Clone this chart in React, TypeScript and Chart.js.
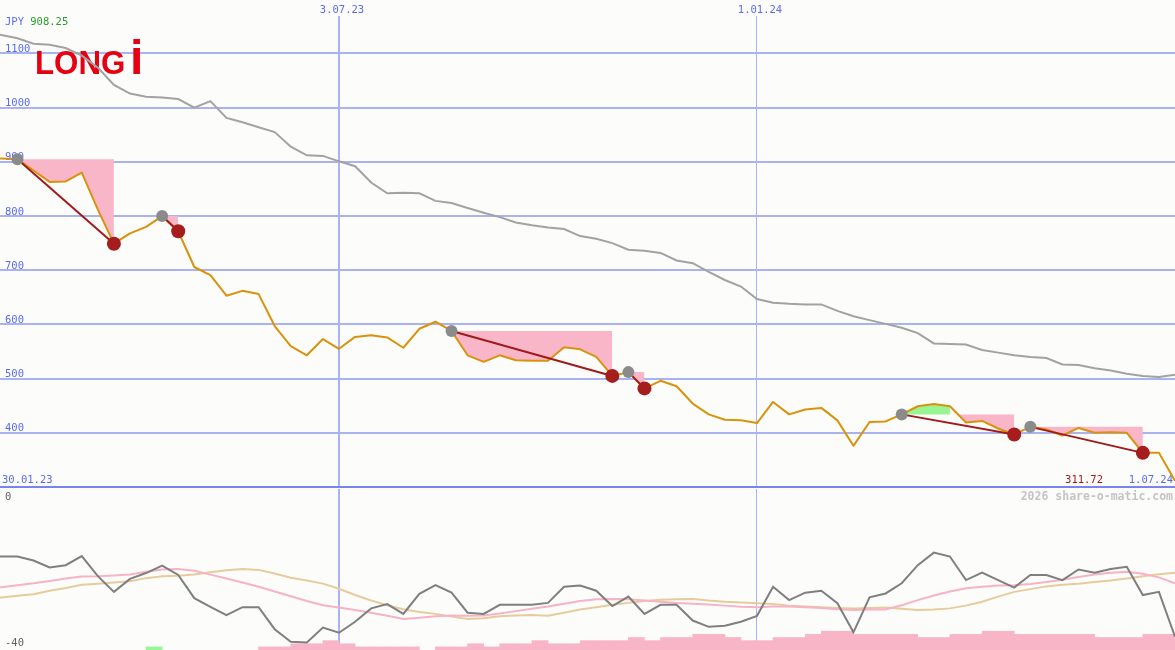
import React, { useEffect, useRef } from 'react';
import { Chart, registerables } from 'chart.js';

Chart.register(...registerables);

// ---- data (weekly, index 0 = 30.01.23, index 74 = 1.07.24) ----
const price = [
  908.25, 906, 905, 884, 863, 864, 880, 812, 749, 768,
  780, 800, 772, 706, 691, 653, 662, 656, 597, 560,
  543, 573, 555, 577, 580, 576, 557, 592, 605, 588,
  543, 531, 543, 534, 533, 533, 558, 554, 540, 505,
  512, 482, 496, 486, 454, 434, 424, 423, 418, 457,
  434, 443, 446, 423, 376, 420, 421, 434, 449, 453,
  449, 419, 422, 408, 397, 411, 406, 395, 409, 400,
  401, 400, 363, 363, 311.72,
];

const movingAvg = [
  1140, 1134, 1128, 1118, 1116, 1110, 1096, 1074, 1042, 1026,
  1020, 1019, 1016, 1000, 1012, 981, 973, 964, 955, 928,
  912, 911, 901, 892, 862, 842, 843, 842, 828, 824,
  815, 806, 798, 788, 783, 779, 776, 763, 758, 750,
  738, 736, 732, 718, 713, 697, 682, 670, 647, 640,
  638, 637, 637, 625, 615, 608, 601, 594, 584, 565,
  564, 563, 553, 548, 543, 540, 538, 526, 525, 519,
  515, 509, 505, 503, 507,
];

const oscillator = [
  -17.0, -17.2, -17.2, -18.2, -20.0, -19.4, -17.1, -22.2, -26.2, -22.9,
  -21.4, -19.5, -21.9, -27.8, -30.0, -32.1, -30.1, -30.1, -35.7, -38.9,
  -39.1, -35.3, -36.6, -33.8, -30.4, -29.3, -31.8, -26.7, -24.5, -26.4,
  -31.5, -31.8, -29.5, -29.5, -29.5, -29.0, -24.9, -24.6, -25.9, -29.8,
  -27.4, -31.8, -29.5, -29.5, -33.5, -35.1, -34.8, -33.8, -32.3, -24.9,
  -28.3, -26.4, -25.9, -29.1, -36.5, -27.6, -26.6, -24.0, -19.4, -16.2,
  -17.2, -23.2, -21.3, -23.2, -25.1, -21.9, -21.9, -23.2, -20.5, -21.3,
  -20.4, -19.8, -27.0, -26.2, -37.6,
];

const oscSignal = [
  -25.5, -25.0, -24.5, -24.0, -23.4, -22.8, -22.3, -22.2, -22.0, -21.8,
  -21.1, -20.5, -20.4, -20.8, -21.8, -22.8, -23.8, -24.9, -26.1, -27.3,
  -28.5, -29.6, -30.2, -30.8, -31.5, -32.3, -33.1, -32.8, -32.4, -32.2,
  -32.3, -32.2, -31.7, -31.1, -30.5, -29.9, -29.2, -28.5, -28.1, -28.0,
  -28.1, -28.4, -28.7, -29.0, -29.2, -29.4, -29.7, -30.0, -30.1, -29.9,
  -29.9, -30.1, -30.3, -30.6, -30.8, -30.7, -30.7, -29.6, -28.3, -27.1,
  -26.1, -25.3, -24.9, -24.6, -24.5, -24.2, -23.7, -23.1, -22.4, -21.8,
  -21.3, -21.1, -21.6, -22.5, -24.0,
];

const oscSlow = [
  -28.3, -27.6, -27.2, -26.8, -25.9, -25.2, -24.4, -24.1, -23.8, -23.5,
  -22.7, -22.2, -22.1, -21.8, -21.2, -20.7, -20.4, -20.6, -21.5, -22.6,
  -23.3, -24.1, -25.4, -27.0, -28.4, -29.6, -30.6, -31.3, -31.8, -32.5,
  -33.1, -32.9, -32.4, -32.2, -32.1, -32.3, -31.5, -30.7, -30.1, -29.5,
  -29.0, -28.5, -28.2, -28.1, -28.0, -28.4, -28.7, -28.9, -29.1, -29.3,
  -29.7, -29.9, -30.1, -30.3, -30.4, -30.3, -30.2, -30.5, -30.8, -30.7,
  -30.4, -29.7, -28.7, -27.4, -26.2, -25.5, -24.8, -24.4, -24.1, -23.7,
  -23.3, -22.8, -22.2, -21.7, -21.3,
];

// histogram per weekly interval [i, i+1]
const histogram = [
  0, 0, 0, 0, 0, 0, 0, 0, 0, 0,
  1, 0, 0, 0, 0, 0, 0, 1, 1, 2,
  2, 3, 2, 1, 1, 1, 1, 0, 1, 1,
  2, 1, 2, 2, 3, 2, 2, 3, 3, 3,
  4, 3, 4, 4, 5, 5, 4, 3, 3, 4,
  4, 5, 6, 6, 5, 5, 5, 5, 4, 4,
  5, 5, 6, 6, 5, 5, 5, 5, 5, 4,
  4, 4, 5, 5,
];
const histGreen = [10];

// signals: start (grey dot) -> end (red dot)
const sigStart = [2, 11, 29, 40, 57, 65];
const sigEnd = [8, 12, 39, 41, 64, 72];
const sigGreenEnd: (number | null)[] = [null, null, null, null, 60, null];

const xTickIdx = [22, 48];
const xTickLabels = ['3.07.23', '1.01.24'];
const yTicks = [300, 400, 500, 600, 700, 800, 900, 1000, 1100];
const startLabel = '30.01.23';
const endLabel = '1.07.24';
const currency = 'JPY';
const firstPrice = '908.25';
const lastPrice = '311.72';

// ---- styles ----
const BG = '#fcfdfb';
const BLUE = '#5a6af0';
const GRID = '#a9b3f1';
const AXIS = '#7985ec';
const ORANGE = '#d9920b';
const MA_GRAY = '#a2a2a2';
const PINK_FILL = '#fab6c9';
const GREEN_FILL = '#98f592';
const DARK_RED = '#a11a1a';
const START_PT = '#8b8b8b';
const END_PT = '#a61d1d';
const OSC = '#7f7f7f';
const OSC_PINK = '#f8b2c6';
const OSC_TAN = '#e6cc9c';
const BAR_PINK = '#f9b5c8';
const BAR_GREEN = '#98f59a';
const MONO = '"DejaVu Sans Mono", monospace';

const X_MIN = 0.914;
const X_MAX = 74;

const xScaleCfg = () => ({
  type: 'linear' as const,
  min: X_MIN,
  max: X_MAX,
  offset: false,
  display: true,
  ticks: { display: false },
  border: { display: false },
  grid: {
    offset: false,
    drawTicks: false,
    color: GRID,
    lineWidth: (c: any) => (c.index === 0 ? 2 : 1),
  },
  afterBuildTicks: (s: any) => {
    s.ticks = xTickIdx.map((v) => ({ value: v }));
  },
  afterFit: (s: any) => {
    s.height = 0;
  },
});

const mainTextPlugin = {
  id: 'mainText',
  beforeDatasetsDraw(chart: any) {
    const ctx = chart.ctx;
    const ys = chart.scales.y;
    const xs = chart.scales.x;
    ctx.save();
    ctx.font = `10.5px ${MONO}`;
    ctx.textBaseline = 'alphabetic';
    ctx.fillStyle = BLUE;
    ctx.textAlign = 'left';
    yTicks.forEach((v) => {
      if (v === 300) return;
      ctx.fillText(String(v), 5, ys.getPixelForValue(v) - 1.5);
    });
    ctx.textAlign = 'center';
    xTickIdx.forEach((v, k) => {
      ctx.fillText(xTickLabels[k], xs.getPixelForValue(v) + 3, 12.5);
    });
    // currency + first price
    ctx.textAlign = 'left';
    ctx.fillText(currency + ' ', 5, 24.5);
    const w = ctx.measureText(currency + ' ').width;
    ctx.fillStyle = '#2a9a2a';
    ctx.fillText(firstPrice, 5 + w, 24.5);
    // bottom labels
    const by = chart.chartArea.bottom - 4;
    ctx.fillStyle = BLUE;
    ctx.textAlign = 'left';
    ctx.fillText(startLabel, 2, by);
    ctx.textAlign = 'right';
    ctx.fillText(endLabel, 1173, by);
    ctx.fillStyle = DARK_RED;
    ctx.fillText(lastPrice, 1103, by);
    // logo
    ctx.fillStyle = '#e60012';
    ctx.textAlign = 'left';
    ctx.save();
    ctx.translate(35, 74);
    ctx.scale(0.92, 1);
    ctx.font = 'bold 34px "Liberation Sans", Arial, sans-serif';
    ctx.fillText('LONG', 0, 0);
    ctx.restore();
    ctx.font = 'bold 48px "Liberation Sans", Arial, sans-serif';
    ctx.fillText('i', 130, 74);
    ctx.restore();
  },
};

const lowerTextPlugin = {
  id: 'lowerText',
  afterDatasetsDraw(chart: any) {
    const ctx = chart.ctx;
    const ys = chart.scales.y;
    ctx.save();
    ctx.font = `10.5px ${MONO}`;
    ctx.fillStyle = '#606060';
    ctx.textAlign = 'left';
    ctx.textBaseline = 'alphabetic';
    ctx.fillText('0', 5, ys.getPixelForValue(0) + 10.5);
    ctx.fillText('-40', 5, ys.getPixelForValue(-40) - 0.5);
    ctx.font = `bold 11.5px ${MONO}`;
    ctx.fillStyle = '#c4c4c4';
    ctx.textAlign = 'right';
    ctx.fillText('2026 share-o-matic.com', 1173, 11);
    ctx.restore();
  },
};

export default function App() {
  const topRef = useRef<HTMLCanvasElement>(null);
  const botRef = useRef<HTMLCanvasElement>(null);

  useEffect(() => {
    const toPts = (arr: number[]) => arr.map((v, i) => ({ x: i, y: v }));

    const mainSets: any[] = [];
    mainSets.push({
      label: 'price',
      data: toPts(price),
      borderColor: ORANGE,
      borderWidth: 2,
      pointRadius: 0,
      borderJoinStyle: 'round',
      order: 2,
    });
    mainSets.push({
      label: 'ma',
      data: toPts(movingAvg),
      borderColor: MA_GRAY,
      borderWidth: 2,
      pointRadius: 0,
      order: 3,
    });
    const fillSet = (a: number, b: number, level: number, below: string) => ({
      data: [
        { x: a, y: level },
        { x: b, y: level },
      ],
      borderColor: 'rgba(0,0,0,0)',
      borderWidth: 0,
      pointRadius: 0,
      fill: { target: 0, above: PINK_FILL, below },
      order: 10,
    });
    sigStart.forEach((s, k) => {
      const e = sigEnd[k];
      const g = sigGreenEnd[k];
      const level = price[s];
      if (g != null) {
        mainSets.push(fillSet(s, g, level, GREEN_FILL));
        mainSets.push(fillSet(g, e, level, 'rgba(0,0,0,0)'));
      } else {
        mainSets.push(fillSet(s, e, level, 'rgba(0,0,0,0)'));
      }
      mainSets.push({
        data: [
          { x: s, y: price[s] },
          { x: e, y: price[e] },
        ],
        borderColor: DARK_RED,
        borderWidth: 2,
        pointRadius: 0,
        order: 1,
      });
    });
    mainSets.push({
      data: sigStart.map((s) => ({ x: s, y: price[s] })),
      showLine: false,
      pointRadius: 6,
      pointBackgroundColor: START_PT,
      pointBorderWidth: 0,
      order: 0,
    });
    mainSets.push({
      data: sigEnd.map((s) => ({ x: s, y: price[s] })),
      showLine: false,
      pointRadius: 7,
      pointBackgroundColor: END_PT,
      pointBorderWidth: 0,
      order: 0,
    });

    const c1 = new Chart(topRef.current as HTMLCanvasElement, {
      type: 'line',
      data: { datasets: mainSets },
      options: {
        animation: false,
        responsive: false,
        events: [],
        layout: { autoPadding: false, padding: { top: 16, bottom: 2, left: 0, right: 0 } },
        plugins: { legend: { display: false }, tooltip: { enabled: false } },
        scales: {
          x: xScaleCfg() as any,
          y: {
            type: 'linear',
            min: 300,
            max: 1169.2,
            display: true,
            ticks: { display: false },
            border: { display: false },
            grid: {
              drawTicks: false,
              lineWidth: 2,
              color: (c: any) => (c.tick && c.tick.value === 300 ? AXIS : GRID),
            },
            afterBuildTicks: (s: any) => {
              s.ticks = yTicks.map((v) => ({ value: v }));
            },
            afterFit: (s: any) => {
              s.width = 0;
            },
          } as any,
        },
      } as any,
      plugins: [mainTextPlugin],
    });

    const histData: any[] = [];
    const histColors: string[] = [];
    histogram.forEach((v, i) => {
      if (v > 0) {
        histData.push({ x: i + 0.5, y: v });
        histColors.push(histGreen.includes(i) ? BAR_GREEN : BAR_PINK);
      }
    });

    const c2 = new Chart(botRef.current as HTMLCanvasElement, {
      type: 'line',
      data: {
        datasets: [
          {
            data: toPts(oscillator),
            borderColor: OSC,
            borderWidth: 2,
            pointRadius: 0,
            order: 1,
          },
          {
            data: toPts(oscSignal),
            borderColor: OSC_PINK,
            borderWidth: 2,
            pointRadius: 0,
            order: 2,
          },
          {
            data: toPts(oscSlow),
            borderColor: OSC_TAN,
            borderWidth: 2,
            pointRadius: 0,
            order: 3,
          },
          {
            type: 'bar',
            data: histData,
            backgroundColor: histColors,
            borderWidth: 0,
            barPercentage: 1,
            categoryPercentage: 1,
            yAxisID: 'yv',
            order: 4,
          } as any,
        ],
      },
      options: {
        animation: false,
        responsive: false,
        events: [],
        layout: { autoPadding: false, padding: 0 },
        plugins: { legend: { display: false }, tooltip: { enabled: false } },
        scales: {
          x: xScaleCfg() as any,
          y: { type: 'linear', min: -41, max: 0, display: false },
          yv: { type: 'linear', min: 0, max: 51.5, display: false },
        },
      } as any,
      plugins: [lowerTextPlugin],
    });

    return () => {
      c1.destroy();
      c2.destroy();
    };
  }, []);

  return (
    <div
      style={{
        position: 'fixed',
        left: 0,
        top: 0,
        width: 1175,
        height: 650,
        background: BG,
        overflow: 'hidden',
      }}
    >
      <canvas
        ref={topRef}
        width={1175}
        height={489}
        style={{ position: 'absolute', left: 0, top: 0 }}
      />
      <canvas
        ref={botRef}
        width={1175}
        height={161}
        style={{ position: 'absolute', left: 0, top: 489 }}
      />
    </div>
  );
}
